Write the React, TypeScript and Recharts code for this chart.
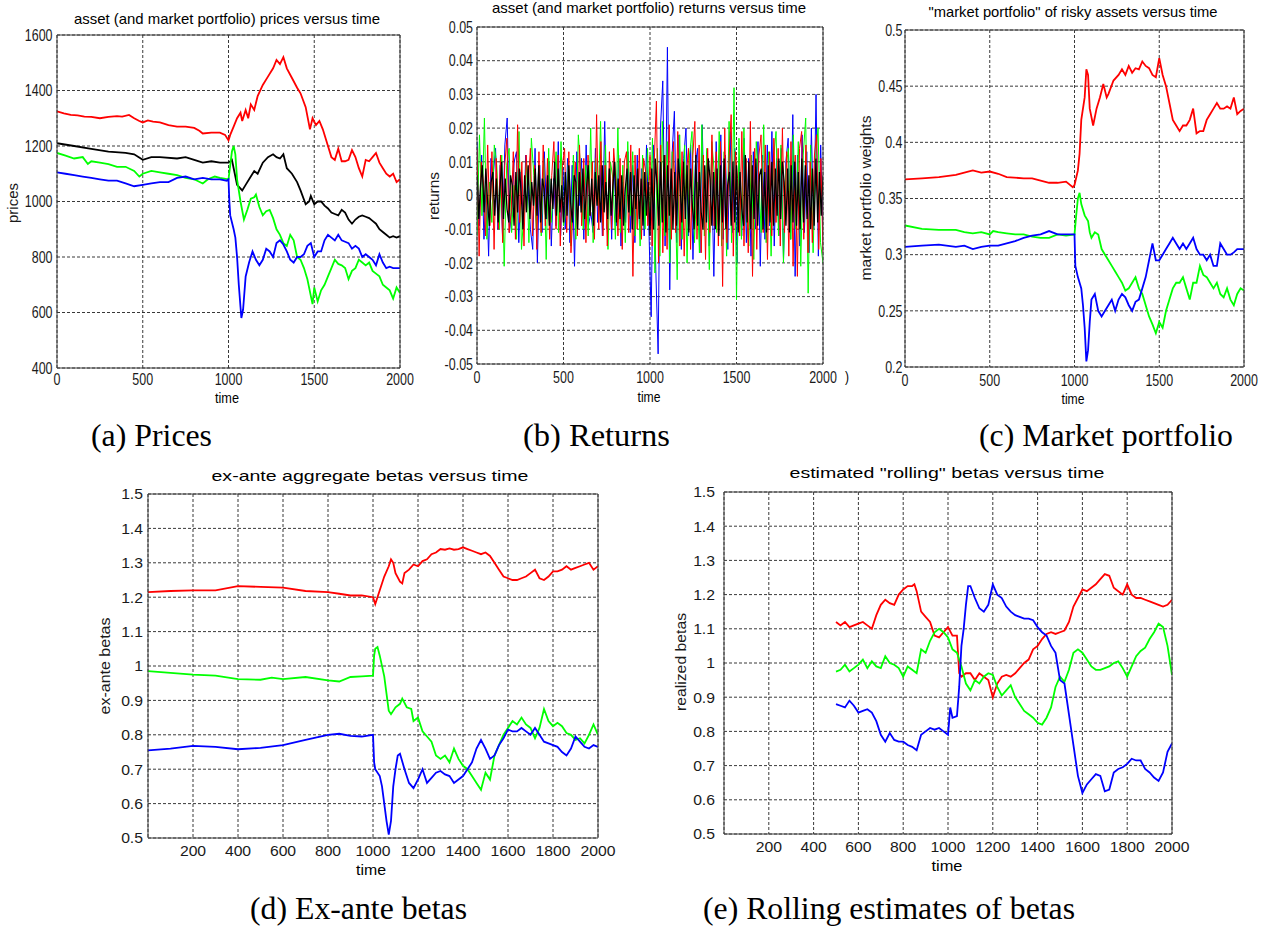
import React from 'react';
import { LineChart, Line, XAxis, YAxis, CartesianGrid, ReferenceLine } from 'recharts';

type P = [number, number];

// ---------- (a) prices ----------
const PRICE_RED: P[] = [[0,1325],[40,1318],[80,1312],[120,1310],[160,1306],[200,1305],[250,1300],[300,1305],[350,1308],[380,1306],[420,1312],[450,1300],[480,1290],[500,1285],[530,1292],[560,1288],[600,1285],[650,1275],[700,1270],[750,1270],[800,1265],[830,1255],[850,1245],[900,1248],[950,1248],[980,1240],[1000,1220],[1010,1240],[1030,1270],[1050,1300],[1070,1320],[1080,1290],[1100,1330],[1115,1300],[1130,1350],[1150,1330],[1170,1380],[1200,1420],[1230,1450],[1260,1480],[1280,1510],[1300,1495],[1320,1520],[1340,1480],[1370,1445],[1400,1410],[1420,1390],[1450,1340],[1475,1260],[1490,1300],[1510,1275],[1530,1290],[1550,1260],[1580,1200],[1600,1160],[1620,1150],[1640,1190],[1660,1145],[1680,1145],[1700,1150],[1720,1185],[1740,1160],[1760,1120],[1780,1090],[1800,1150],[1820,1145],[1840,1160],[1860,1175],[1880,1140],[1900,1120],[1920,1100],[1940,1090],[1960,1100],[1980,1070],[2000,1080]];
const PRICE_BLACK: P[] = [[0,1210],[100,1200],[200,1190],[300,1180],[400,1175],[450,1170],[500,1150],[550,1160],[600,1160],[700,1155],[750,1160],[800,1150],[850,1140],[900,1145],[950,1140],[1000,1140],[1020,1150],[1030,1120],[1050,1060],[1080,1040],[1100,1060],[1130,1090],[1150,1110],[1170,1100],[1200,1140],[1230,1160],[1260,1170],[1280,1160],[1300,1155],[1320,1170],[1340,1120],[1370,1100],[1400,1070],[1420,1040],[1450,990],[1470,1000],[1480,1020],[1500,990],[1520,1000],[1540,1000],[1560,985],[1580,975],[1600,960],[1620,955],[1640,950],[1660,970],[1680,960],[1700,935],[1720,920],[1740,935],[1760,945],[1780,950],[1800,945],[1820,940],[1840,930],[1860,920],[1880,900],[1900,890],[1920,880],[1940,870],[1960,875],[1980,870],[2000,875]];
const PRICE_GREEN: P[] = [[0,1175],[50,1165],[100,1155],[150,1160],[180,1135],[200,1145],[250,1140],[300,1135],[350,1125],[400,1125],[450,1110],[480,1090],[500,1100],[550,1110],[600,1105],[650,1100],[700,1095],[750,1085],[800,1080],[850,1065],[880,1080],[920,1090],[950,1085],[1000,1080],[1010,1130],[1020,1180],[1030,1200],[1040,1170],[1050,1080],[1070,1000],[1090,935],[1110,970],[1130,1010],[1150,1015],[1160,1025],[1180,980],[1200,950],[1220,965],[1240,970],[1260,940],[1280,900],[1300,880],[1320,850],[1340,840],[1360,880],[1380,860],[1400,800],[1420,790],[1440,760],[1460,720],[1480,660],[1490,630],[1500,690],[1520,640],[1540,680],[1560,700],[1580,730],[1600,760],[1620,790],[1640,775],[1660,770],[1680,760],[1700,720],[1720,750],[1740,760],[1760,790],[1780,780],[1800,770],[1820,780],[1840,750],[1860,740],[1880,730],[1900,700],[1920,690],[1940,680],[1960,650],[1980,690],[2000,670]];
const PRICE_BLUE: P[] = [[0,1105],[50,1100],[100,1095],[150,1090],[200,1085],[250,1080],[300,1075],[350,1075],[400,1065],[450,1055],[500,1060],[550,1065],[600,1070],[650,1070],[700,1085],[750,1090],[800,1080],[850,1085],[900,1080],[950,1080],[990,1075],[1000,1080],[1005,1000],[1010,950],[1030,900],[1040,870],[1050,800],[1060,700],[1070,620],[1075,580],[1085,610],[1100,730],[1120,780],[1140,820],[1160,790],[1180,770],[1200,790],[1220,830],[1240,820],[1260,800],[1280,850],[1300,860],[1320,845],[1340,820],[1360,790],[1380,780],[1400,800],[1420,800],[1440,810],[1460,840],[1480,850],[1500,800],[1520,820],[1540,820],[1560,860],[1580,880],[1600,870],[1620,860],[1640,880],[1660,860],[1680,855],[1700,850],[1720,830],[1740,840],[1760,830],[1780,800],[1800,810],[1820,800],[1840,790],[1860,770],[1880,810],[1900,780],[1920,760],[1940,765],[1960,760],[2000,760]];

// ---------- (b) returns, in units of 0.001, evenly spaced over time 0..2000 ----------
const RET_BLUE = [16,-9,12,-13,4,-18,11,6,14,-10, 9,-12,15,23,-11,-4,10,13,-14,7, -9,12,3,-10,-16,14,-20,9,-11,13, -7,10,-15,5,-9,16,-12,8,-10,11, -14,9,-21,13,-3,11,-13,15,-9,-5, -11,14,-8,9,-12,22,-10,8,-13,11, -9,12,-15,4,-8,13,-11,9,-14,12, -10,8,-12,15,-9, -36,15,-22,-47,20,34,-15,44,-28,12, 25,-14,18,-16,11,20,-12,15,-19,9,14,-17,21,-11,13, -15,10,-24,16,-9,18,-13,12,-16,19,-11,14,-20,10,-12, 17,-14,11,-18,13,-10,16,-21,12,-13,15,-9,19,-15,11, -12,14,-19,10,17,-13,24,-24,12,-15,18,-11,13,-17,20,-10,30,-18,15,-12];
const RET_GREEN = [-12,18,-6,23,-13,4,-8,15,9,-10, 12,-21,9,14,-11,3,-13,19,-16,-5, 10,-14,17,6,-10,9,-12,11,-19,14, -8,2,13,-11,16,-9,-4,10,-15,12, -13,18,7,-10,9,-12,20,-14,11,-3, 22,-9,15,-16,10,5,-13,20,-11,9, -14,16,-6,13,-12,8,-15,12,-10,14, -9,17,-23,14,-18,22,-12,16,-20,13, 6,-25,18,-13,15,-20,12,19,-14,4, -17,21,-12,14,-22,16,7,-11,19,-15, 13,-18,22,-14,32,-31,17,-13,20,-6, -15,12,-19,16,5,-11,21,-14,13,-18, 11,19,-12,15,-20,8,14,-13,18,-10, 16,-21,12,23,-29,15,-17,11,20,-14,-20];
const RET_RED = [14,-18,10,4,-12,15,-9,13,-16,11, -10,12,-14,9,17,-11,-5,13,-13,21, -8,10,-15,12,3,14,-12,9,-16,13, -11,15,-9,11,-13,6,16,-10,12,-15, 9,14,-11,13,-17,-4,10,-12,15,-9, 11,-14,12,-6,10,-13,24,-10,16,-12, 9,-15,13,-10,14,5,-12,11,-16,10, 13,-11,15,-24,12,-10,14,-13,11,7, -9,12,-15,10,28,-20,15,-17,12,-16, 21,-13,16,-11,19,-15,13,-18,6,14, -16,11,22,-13,15,-17,12,-19,14,-11, 18,-9,13,-15,16,-27,20,-14,11,24, -18,13,5,-12,19,-15,11,-17,22,-24, 14,-16,12,18,-11,15,-19,13,-12,17, -8,14,-15,20,-11,13,-18,16,-21,12, -24,14,19,-13,15,-17,10,-14,12,18,-16,11,-17];
const RET_BLACK = [6,-7,3,9,-5,8,-2,-9,4,7, -6,5,-8,2,10,-7,5,-4,-8,6, 3,-9,7,-5,8,1,-10,6,-5,9, -7,4,-3,8,-6,9,-8,5,2,-7, 6,-9,5,-4,10,-6,8,-5,3,-8, 7,-6,9,-2,-8,6,4,-10,7,-5, 8,-7,2,9,-6,5,-9,7,-3,6, -8,9,-5,4,-7,8,-6,3,10,-8, 5,-7,6,-9,2,8,-5,7,-10,6, -4,8,-7,5,-9,7,-6,4, -12,8,-10,11,3,-9,10,-8,12,-11, 9,-6,8,-10,7,-9,11,4,-8,10, -7,9,-11,8,-3,-10,12,-9,7,-5, -10,9,-8,11,5,-9,7,-10,8,-12, 9,-8,11,-10,3,7,-9,10,-8,9, -11,7,-4,-9,12,-8,10,-10,9,-7, 11,-9,6,8,-10,7,-11,9,-8,10, -9,8,-6,11,-7,10,4,-9,8,-11, 9,-8,10,-9,7,-10,11,-8,9,-7, 6,-10,8,-9,11,-8,7,-6,6];

// ---------- (c) market portfolio weights ----------
const W_RED: P[] = [[0,0.367],[100,0.368],[200,0.369],[300,0.371],[350,0.373],[400,0.375],[450,0.373],[500,0.374],[550,0.372],[600,0.369],[700,0.368],[750,0.368],[800,0.366],[850,0.364],[900,0.364],[950,0.365],[990,0.36],[1000,0.362],[1020,0.375],[1030,0.39],[1040,0.42],[1060,0.44],[1070,0.465],[1080,0.46],[1090,0.43],[1110,0.415],[1130,0.43],[1150,0.44],[1170,0.452],[1190,0.44],[1200,0.443],[1230,0.455],[1260,0.46],[1280,0.465],[1300,0.46],[1320,0.468],[1340,0.462],[1360,0.466],[1380,0.465],[1400,0.472],[1420,0.468],[1440,0.466],[1460,0.46],[1480,0.458],[1500,0.475],[1520,0.46],[1540,0.45],[1560,0.435],[1580,0.42],[1600,0.415],[1620,0.41],[1640,0.415],[1660,0.415],[1680,0.42],[1700,0.43],[1720,0.408],[1740,0.41],[1760,0.41],[1780,0.42],[1800,0.425],[1820,0.43],[1840,0.435],[1860,0.43],[1880,0.43],[1900,0.432],[1920,0.43],[1940,0.44],[1960,0.425],[1980,0.428],[2000,0.43]];
const W_GREEN: P[] = [[0,0.326],[100,0.323],[200,0.322],[300,0.322],[350,0.32],[400,0.319],[450,0.32],[500,0.318],[520,0.321],[550,0.32],[600,0.319],[650,0.318],[700,0.318],[750,0.316],[800,0.315],[850,0.315],[900,0.318],[950,0.317],[1000,0.318],[1010,0.335],[1020,0.35],[1030,0.355],[1040,0.345],[1060,0.335],[1080,0.33],[1090,0.32],[1100,0.315],[1120,0.32],[1140,0.318],[1160,0.305],[1180,0.3],[1200,0.295],[1220,0.29],[1240,0.285],[1260,0.28],[1280,0.275],[1300,0.268],[1320,0.27],[1340,0.275],[1360,0.28],[1380,0.27],[1400,0.265],[1420,0.255],[1440,0.245],[1460,0.238],[1480,0.23],[1500,0.24],[1520,0.235],[1540,0.25],[1560,0.26],[1580,0.27],[1600,0.275],[1620,0.275],[1640,0.28],[1660,0.27],[1680,0.26],[1700,0.275],[1720,0.275],[1740,0.29],[1760,0.282],[1780,0.28],[1800,0.275],[1820,0.27],[1840,0.275],[1860,0.265],[1880,0.262],[1900,0.27],[1920,0.26],[1940,0.255],[1960,0.265],[1980,0.27],[2000,0.268]];
const W_BLUE: P[] = [[0,0.307],[100,0.308],[200,0.309],[300,0.307],[350,0.308],[400,0.305],[450,0.307],[500,0.308],[550,0.308],[600,0.31],[650,0.312],[700,0.315],[750,0.317],[800,0.318],[850,0.321],[900,0.318],[950,0.318],[1000,0.318],[1005,0.29],[1020,0.28],[1040,0.27],[1050,0.255],[1060,0.235],[1070,0.205],[1080,0.215],[1090,0.24],[1100,0.26],[1120,0.265],[1140,0.25],[1160,0.245],[1180,0.25],[1200,0.255],[1220,0.26],[1240,0.25],[1260,0.26],[1280,0.265],[1300,0.262],[1320,0.255],[1340,0.25],[1360,0.258],[1380,0.26],[1400,0.27],[1420,0.28],[1440,0.295],[1460,0.31],[1480,0.295],[1500,0.295],[1520,0.3],[1540,0.305],[1560,0.31],[1580,0.315],[1600,0.31],[1620,0.305],[1640,0.31],[1660,0.305],[1680,0.31],[1700,0.315],[1720,0.305],[1740,0.3],[1760,0.3],[1780,0.295],[1800,0.3],[1820,0.29],[1840,0.29],[1860,0.31],[1880,0.305],[1900,0.3],[1920,0.3],[1940,0.302],[1960,0.305],[2000,0.305]];

// ---------- (d) ex-ante betas ----------
const XB_RED: P[] = [[0,1.215],[100,1.218],[200,1.22],[300,1.22],[400,1.232],[500,1.23],[600,1.228],[700,1.218],[800,1.215],[850,1.21],[900,1.205],[950,1.205],[1000,1.2],[1010,1.18],[1030,1.22],[1050,1.26],[1070,1.29],[1080,1.31],[1090,1.3],[1100,1.27],[1120,1.245],[1130,1.24],[1140,1.27],[1160,1.28],[1180,1.295],[1200,1.29],[1220,1.305],[1240,1.31],[1260,1.325],[1280,1.33],[1300,1.34],[1320,1.338],[1340,1.342],[1360,1.338],[1380,1.34],[1400,1.345],[1420,1.34],[1440,1.335],[1460,1.33],[1480,1.325],[1500,1.33],[1520,1.32],[1540,1.3],[1560,1.28],[1580,1.26],[1600,1.255],[1620,1.25],[1640,1.25],[1660,1.255],[1680,1.26],[1700,1.27],[1720,1.28],[1740,1.255],[1760,1.25],[1780,1.26],[1800,1.275],[1820,1.275],[1840,1.28],[1860,1.29],[1880,1.28],[1900,1.285],[1920,1.29],[1940,1.295],[1960,1.3],[1980,1.28],[2000,1.29]];
const XB_GREEN: P[] = [[0,0.985],[100,0.98],[200,0.975],[300,0.972],[400,0.962],[500,0.96],[550,0.966],[600,0.962],[700,0.968],[800,0.958],[850,0.955],[900,0.968],[950,0.97],[1000,0.972],[1005,1.03],[1010,1.05],[1020,1.055],[1030,1.03],[1050,0.97],[1060,0.92],[1070,0.87],[1080,0.86],[1100,0.88],[1120,0.89],[1130,0.905],[1150,0.88],[1170,0.875],[1180,0.84],[1200,0.85],[1220,0.81],[1240,0.795],[1260,0.78],[1280,0.74],[1300,0.73],[1320,0.74],[1340,0.72],[1360,0.76],[1380,0.73],[1400,0.71],[1420,0.7],[1440,0.68],[1460,0.66],[1480,0.64],[1500,0.69],[1520,0.67],[1540,0.74],[1560,0.77],[1580,0.8],[1600,0.82],[1620,0.84],[1640,0.83],[1660,0.85],[1680,0.83],[1700,0.82],[1720,0.79],[1740,0.82],[1760,0.875],[1780,0.84],[1800,0.825],[1820,0.835],[1840,0.825],[1860,0.805],[1880,0.8],[1900,0.785],[1920,0.79],[1940,0.775],[1960,0.8],[1980,0.83],[2000,0.8]];
const XB_BLUE: P[] = [[0,0.755],[100,0.76],[200,0.768],[300,0.765],[400,0.758],[500,0.762],[600,0.77],[700,0.785],[800,0.8],[850,0.803],[900,0.797],[950,0.795],[1000,0.8],[1005,0.72],[1010,0.7],[1030,0.68],[1040,0.65],[1050,0.6],[1060,0.55],[1070,0.51],[1080,0.55],[1090,0.65],[1100,0.7],[1110,0.74],[1120,0.745],[1140,0.7],[1160,0.66],[1180,0.645],[1200,0.67],[1220,0.7],[1240,0.66],[1260,0.675],[1280,0.69],[1300,0.695],[1320,0.685],[1340,0.68],[1360,0.66],[1380,0.67],[1400,0.68],[1420,0.7],[1440,0.72],[1460,0.76],[1480,0.785],[1500,0.76],[1520,0.73],[1540,0.74],[1560,0.77],[1580,0.79],[1600,0.815],[1620,0.81],[1640,0.81],[1660,0.82],[1680,0.81],[1700,0.8],[1720,0.82],[1740,0.8],[1760,0.78],[1780,0.775],[1800,0.77],[1820,0.765],[1840,0.75],[1860,0.74],[1880,0.76],[1900,0.795],[1920,0.78],[1940,0.765],[1960,0.76],[1980,0.77],[2000,0.765]];

// ---------- (e) rolling betas ----------
const RB_RED: P[] = [[500,1.12],[520,1.11],[540,1.12],[560,1.105],[580,1.11],[600,1.115],[620,1.12],[640,1.11],[660,1.1],[680,1.14],[700,1.17],[720,1.185],[740,1.175],[760,1.17],[780,1.2],[800,1.215],[820,1.225],[840,1.225],[850,1.23],[860,1.21],[880,1.15],[900,1.135],[920,1.12],[940,1.08],[960,1.075],[980,1.09],[1000,1.105],[1020,1.08],[1040,1.08],[1050,0.97],[1060,0.96],[1080,0.97],[1100,0.97],[1120,0.95],[1140,0.97],[1160,0.96],[1180,0.95],[1200,0.9],[1220,0.94],[1240,0.96],[1260,0.965],[1280,0.96],[1300,0.97],[1320,0.985],[1340,1.0],[1360,1.01],[1380,1.04],[1400,1.05],[1420,1.07],[1440,1.085],[1460,1.09],[1480,1.085],[1500,1.09],[1520,1.095],[1540,1.12],[1560,1.165],[1580,1.19],[1600,1.215],[1620,1.21],[1640,1.22],[1660,1.23],[1680,1.245],[1700,1.26],[1720,1.255],[1740,1.22],[1760,1.21],[1780,1.2],[1800,1.23],[1820,1.2],[1840,1.19],[1860,1.19],[1880,1.185],[1900,1.18],[1920,1.175],[1940,1.17],[1960,1.165],[1980,1.17],[2000,1.185]];
const RB_GREEN: P[] = [[500,0.975],[520,0.98],[540,0.995],[560,0.975],[580,0.985],[600,0.995],[620,1.01],[640,0.985],[660,1.005],[680,0.99],[700,0.985],[720,1.02],[740,1.0],[760,0.995],[780,0.985],[800,0.96],[820,0.99],[840,0.98],[860,0.97],[880,1.04],[900,1.03],[920,1.065],[940,1.09],[960,1.1],[980,1.09],[1000,1.075],[1020,1.04],[1040,1.03],[1060,0.99],[1080,0.94],[1100,0.92],[1120,0.95],[1140,0.94],[1160,0.96],[1180,0.97],[1200,0.965],[1220,0.93],[1240,0.905],[1260,0.92],[1280,0.935],[1300,0.9],[1320,0.88],[1340,0.86],[1360,0.85],[1380,0.84],[1400,0.825],[1420,0.82],[1440,0.84],[1460,0.87],[1480,0.93],[1500,0.96],[1520,0.945],[1540,0.98],[1560,1.03],[1580,1.04],[1600,1.03],[1620,1.01],[1640,0.99],[1660,0.98],[1680,0.98],[1700,0.985],[1720,0.99],[1740,1.0],[1760,1.005],[1780,0.985],[1800,0.96],[1820,0.99],[1840,1.02],[1860,1.035],[1880,1.045],[1900,1.07],[1920,1.09],[1940,1.115],[1960,1.105],[1980,1.05],[2000,0.965]];
const RB_BLUE: P[] = [[500,0.88],[520,0.875],[540,0.87],[560,0.89],[580,0.875],[600,0.855],[620,0.86],[640,0.865],[660,0.855],[680,0.83],[700,0.79],[720,0.77],[740,0.795],[760,0.775],[780,0.77],[800,0.77],[820,0.76],[840,0.755],[860,0.745],[880,0.79],[900,0.8],[920,0.81],[940,0.805],[960,0.81],[980,0.8],[1000,0.79],[1010,0.87],[1020,0.84],[1040,0.845],[1050,0.93],[1060,1.05],[1070,1.1],[1080,1.17],[1090,1.225],[1100,1.225],[1120,1.19],[1140,1.16],[1160,1.15],[1180,1.17],[1200,1.23],[1220,1.2],[1240,1.19],[1260,1.165],[1280,1.15],[1300,1.14],[1320,1.135],[1340,1.13],[1360,1.13],[1380,1.125],[1400,1.105],[1420,1.09],[1440,1.08],[1460,1.05],[1480,1.03],[1500,0.95],[1520,0.94],[1540,0.85],[1560,0.76],[1580,0.67],[1600,0.62],[1620,0.645],[1640,0.66],[1660,0.675],[1680,0.67],[1700,0.625],[1720,0.63],[1740,0.68],[1760,0.69],[1780,0.695],[1800,0.705],[1820,0.72],[1840,0.715],[1860,0.715],[1880,0.69],[1900,0.68],[1920,0.665],[1940,0.655],[1960,0.68],[1980,0.74],[2000,0.765]];

// ---------- axes ----------
const X_TICKS_TOP = [0, 500, 1000, 1500, 2000];
const X_TICKS_BOTTOM = [200, 400, 600, 800, 1000, 1200, 1400, 1600, 1800, 2000];
const PRICE_TICKS = [400, 600, 800, 1000, 1200, 1400, 1600];
const RET_TICKS = [-0.05, -0.04, -0.03, -0.02, -0.01, 0, 0.01, 0.02, 0.03, 0.04, 0.05];
const WEIGHT_TICKS = [0.2, 0.25, 0.3, 0.35, 0.4, 0.45, 0.5];
const BETA_TICKS = [0.5, 0.6, 0.7, 0.8, 0.9, 1, 1.1, 1.2, 1.3, 1.4, 1.5];

const RED = '#ff0000';
const GREEN = '#00ff00';
const BLUE = '#0000ff';
const BLACK = '#000000';

const SANS = '"Liberation Sans", Arial, Helvetica, sans-serif';
const SERIF = '"Liberation Serif", "Times New Roman", Times, serif';

const ML = 70, MR = 34, MT = 12, MB = 40;

const pairs = (pts: P[]) => pts.map(([t, v]) => ({ t, v }));
const evenly = (arr: number[]) => arr.map((v, i) => ({ t: (i * 2000) / (arr.length - 1), v: v / 1000 }));

type Series = { data: { t: number; v: number }[]; color: string; width: number };
type Box = { x: number; y: number; w: number; h: number };
type PanelProps = {
  box: Box;
  xDomain: [number, number];
  xTicks: number[];
  yDomain: [number, number];
  yTicks: number[];
  series: Series[];
  fs: number;
  sx: number;
  yGap: number;
  xBase: number;
};

function Panel(p: PanelProps) {
  const { box } = p;
  const W = box.w + ML + MR;
  const H = box.h + MT + MB;
  const YTick = (props: any) => {
    const { y, payload } = props;
    return (
      <text
        transform={`translate(${ML - p.yGap},${y + p.fs * 0.358}) scale(${p.sx},1)`}
        textAnchor="end"
        fontSize={p.fs}
        fontFamily={SANS}
        fill="#1a1a1a"
      >
        {String(payload.value)}
      </text>
    );
  };
  const XTick = (props: any) => {
    const { x, payload } = props;
    return (
      <text
        transform={`translate(${x},${p.xBase - box.y + MT}) scale(${p.sx},1)`}
        textAnchor="middle"
        fontSize={p.fs}
        fontFamily={SANS}
        fill="#1a1a1a"
      >
        {String(payload.value)}
      </text>
    );
  };
  const frame = '#3c3c3c';
  return (
    <div style={{ position: 'absolute', left: box.x - ML, top: box.y - MT, width: W, height: H }}>
      <LineChart width={W} height={H} margin={{ top: MT, right: MR, left: 0, bottom: 0 }}>
        <CartesianGrid stroke="#222" strokeDasharray="3 2" strokeWidth={0.9} />
        <XAxis
          type="number"
          dataKey="t"
          domain={p.xDomain}
          ticks={p.xTicks}
          allowDataOverflow
          height={MB}
          axisLine={false}
          tickLine={false}
          tick={XTick}
          interval={0}
        />
        <YAxis
          type="number"
          domain={p.yDomain}
          ticks={p.yTicks}
          allowDataOverflow
          width={ML}
          axisLine={false}
          tickLine={false}
          tick={YTick}
          interval={0}
        />
        {p.series.map((s, i) => (
          <Line
            key={i}
            data={s.data}
            dataKey="v"
            type="linear"
            stroke={s.color}
            strokeWidth={s.width}
            dot={false}
            activeDot={false}
            isAnimationActive={false}
          />
        ))}
        <ReferenceLine x={p.xDomain[0]} stroke={frame} strokeWidth={1} />
        <ReferenceLine x={p.xDomain[1]} stroke={frame} strokeWidth={1} />
        <ReferenceLine y={p.yDomain[0]} stroke={frame} strokeWidth={1} />
        <ReferenceLine y={p.yDomain[1]} stroke={frame} strokeWidth={1} />
      </LineChart>
    </div>
  );
}

function Title({ x, y, text, len, size = 15 }: { x: number; y: number; text: string; len: number; size?: number }) {
  return (
    <text x={x} y={y} textAnchor="middle" fontSize={size} fontFamily={SANS} fill="#000" textLength={len} lengthAdjust="spacingAndGlyphs">
      {text}
    </text>
  );
}

function VLabel({ x, y, text, len }: { x: number; y: number; text: string; len: number }) {
  return (
    <text
      transform={`translate(${x},${y}) rotate(-90)`}
      textAnchor="middle"
      dy="0.35em"
      fontSize={15}
      fontFamily={SANS}
      fill="#1a1a1a"
      textLength={len}
      lengthAdjust="spacingAndGlyphs"
    >
      {text}
    </text>
  );
}

function Caption({ x, y, text, len }: { x: number; y: number; text: string; len: number }) {
  return (
    <text x={x} y={y} fontSize={31} fontFamily={SERIF} fill="#000" textLength={len} lengthAdjust="spacingAndGlyphs">
      {text}
    </text>
  );
}

export default function App() {
  const top = { fs: 16, sx: 0.78 };
  const bot = { fs: 15, sx: 1.05 };
  return (
    <div style={{ position: 'absolute', left: 0, top: 0, width: 1265, height: 930, background: '#fff', overflow: 'hidden' }}>
      <Panel
        box={{ x: 57, y: 35, w: 343, h: 333 }}
        xDomain={[0, 2000]}
        xTicks={X_TICKS_TOP}
        yDomain={[400, 1600]}
        yTicks={PRICE_TICKS}
        series={[
          { data: pairs(PRICE_RED), color: RED, width: 1.8 },
          { data: pairs(PRICE_BLACK), color: BLACK, width: 1.8 },
          { data: pairs(PRICE_GREEN), color: GREEN, width: 1.8 },
          { data: pairs(PRICE_BLUE), color: BLUE, width: 1.8 },
        ]}
        {...top}
        yGap={4.5}
        xBase={385}
      />
      <Panel
        box={{ x: 477, y: 27, w: 346, h: 337 }}
        xDomain={[0, 2000]}
        xTicks={X_TICKS_TOP}
        yDomain={[-0.05, 0.05]}
        yTicks={RET_TICKS}
        series={[
          { data: evenly(RET_BLUE), color: BLUE, width: 1 },
          { data: evenly(RET_GREEN), color: GREEN, width: 1 },
          { data: evenly(RET_RED), color: RED, width: 1 },
          { data: evenly(RET_BLACK), color: BLACK, width: 1.3 },
        ]}
        {...top}
        yGap={4}
        xBase={382.5}
      />
      <Panel
        box={{ x: 905, y: 30, w: 339, h: 337 }}
        xDomain={[0, 2000]}
        xTicks={X_TICKS_TOP}
        yDomain={[0.2, 0.5]}
        yTicks={WEIGHT_TICKS}
        series={[
          { data: pairs(W_RED), color: RED, width: 1.8 },
          { data: pairs(W_GREEN), color: GREEN, width: 1.8 },
          { data: pairs(W_BLUE), color: BLUE, width: 1.8 },
        ]}
        {...top}
        yGap={2.5}
        xBase={386}
      />
      <Panel
        box={{ x: 148, y: 494, w: 450, h: 344 }}
        xDomain={[0, 2000]}
        xTicks={X_TICKS_BOTTOM}
        yDomain={[0.5, 1.5]}
        yTicks={BETA_TICKS}
        series={[
          { data: pairs(XB_RED), color: RED, width: 1.8 },
          { data: pairs(XB_GREEN), color: GREEN, width: 1.8 },
          { data: pairs(XB_BLUE), color: BLUE, width: 1.8 },
        ]}
        {...bot}
        yGap={5}
        xBase={856}
      />
      <Panel
        box={{ x: 724, y: 492, w: 448, h: 342 }}
        xDomain={[0, 2000]}
        xTicks={X_TICKS_BOTTOM}
        yDomain={[0.5, 1.5]}
        yTicks={BETA_TICKS}
        series={[
          { data: pairs(RB_RED), color: RED, width: 1.8 },
          { data: pairs(RB_GREEN), color: GREEN, width: 1.8 },
          { data: pairs(RB_BLUE), color: BLUE, width: 1.8 },
        ]}
        {...bot}
        yGap={9}
        xBase={852}
      />
      <svg width={1265} height={930} style={{ position: 'absolute', left: 0, top: 0, pointerEvents: 'none' }}>
        <Title x={227} y={24} text="asset (and market portfolio) prices versus time" len={306} />
        <Title x={649} y={13} text="asset (and market portfolio) returns versus time" len={314} />
        <Title x={1073} y={17} text={'"market portfolio" of risky assets versus time'} len={289} />
        <Title x={370} y={481} text="ex-ante aggregate betas versus time" len={317} />
        <Title x={947} y={478} text={'estimated "rolling" betas versus time'} len={315} />

        <Title x={227} y={403} text="time" len={24} />
        <Title x={649} y={402} text="time" len={23} />
        <Title x={1073} y={404} text="time" len={23} />
        <Title x={371} y={875} text="time" len={30} />
        <Title x={947} y={871} text="time" len={31} />
        <Title x={847} y={382} text=")" len={4} size={14} />

        <VLabel x={13} y={203} text="prices" len={40} />
        <VLabel x={434} y={196} text="returns" len={48} />
        <VLabel x={866} y={198} text="market portfolio weights" len={165} />
        <VLabel x={105} y={666} text="ex-ante betas" len={97} />
        <VLabel x={681} y={662} text="realized betas" len={98} />

        <Caption x={91} y={446} text="(a) Prices" len={121} />
        <Caption x={523} y={446} text="(b) Returns" len={147} />
        <Caption x={979} y={446} text="(c) Market portfolio" len={254} />
        <Caption x={250} y={919} text="(d) Ex-ante betas" len={217} />
        <Caption x={703} y={919} text="(e) Rolling estimates of betas" len={372} />
      </svg>
    </div>
  );
}
